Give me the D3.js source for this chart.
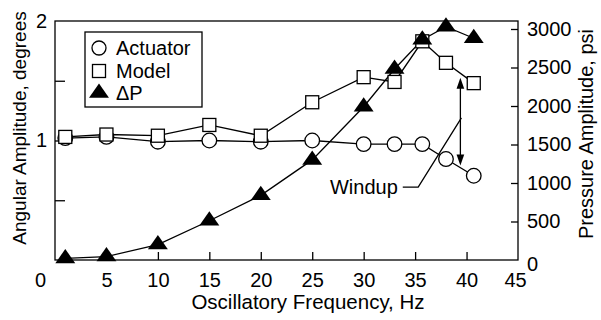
<!DOCTYPE html>
<html>
<head>
<meta charset="utf-8">
<script src="https://cdn.jsdelivr.net/npm/d3@7"></script>
<style>
  html, body { margin: 0; padding: 0; background: #fff; }
  svg text { font-family: "Liberation Sans", Arial, Helvetica, sans-serif; fill: #000; }
</style>
</head>
<body>
<svg id="chart" width="601" height="320"></svg>
<script>
// Oscillatory test: actuator vs. model angular amplitude and pressure amplitude
const freq = [1, 5, 10, 15, 20, 25, 30, 33, 35.7, 38, 40.7];
const actuator = [1.02, 1.03, 0.99, 1.0, 0.99, 1.0, 0.97, 0.97, 0.97, 0.845, 0.705];
const model = [1.03, 1.05, 1.04, 1.13, 1.04, 1.32, 1.53, 1.49, 1.83, 1.65, 1.48];
const deltaP = [20, 45, 200, 510, 840, 1300, 1990, 2480, 2860, 3030, 2880];

const xTicks = [0, 5, 10, 15, 20, 25, 30, 35, 40, 45];
const leftTicks = [0.5, 1, 1.5, 2];
const leftLabels = [1, 2];
const rightTicks = [0, 500, 1000, 1500, 2000, 2500, 3000];

// Windup annotation (Hz, degrees)
const windupArrow = { f: 39.4, top: 1.506, bottom: 0.81 };
const windupLeader = [[33.8, 0.61], [35.3, 0.61], [39.5, 1.19]];

const svg = d3.select("#chart");
const plotL = 55, plotR = 518, plotT = 21, plotB = 260;

const x = d3.scaleLinear().domain([0, 45]).range([plotL, plotR]);
const yL = d3.scaleLinear().domain([0, 2]).range([plotB, plotT]);
const yR = d3.scaleLinear().domain([0, 3000]).range([plotB, 29]);

const g = svg.append("g");
const fs = 20;

// frame
g.append("rect").attr("x", plotL).attr("y", plotT)
  .attr("width", plotR - plotL).attr("height", plotB - plotT)
  .attr("fill", "none").attr("stroke", "#000").attr("stroke-width", 1.3);

// bottom axis (ticks pointing inward)
const xAxis = d3.axisBottom(x).tickValues(xTicks).tickSizeInner(-8).tickSizeOuter(0).tickPadding(13);
const gx = g.append("g").attr("transform", `translate(0,${plotB})`).call(xAxis);
gx.select(".domain").remove();
gx.selectAll(".tick line").attr("stroke-width", 1.3);
gx.selectAll(".tick").filter(d => d === 0 || d === 45).select("line").remove();
gx.selectAll(".tick text").style("font-size", fs + "px").attr("font-family", null);
gx.selectAll(".tick").filter(d => d === 0).select("text").attr("x", -15);
gx.selectAll(".tick").filter(d => d === 45).select("text").attr("x", -3);

// left axis
const yAxisL = d3.axisLeft(yL).tickValues(leftTicks).tickSizeInner(-10).tickSizeOuter(0).tickPadding(8)
  .tickFormat(d => leftLabels.includes(d) ? d3.format("d")(d) : "");
const gyl = g.append("g").attr("transform", `translate(${plotL},0)`).call(yAxisL);
gyl.select(".domain").remove();
gyl.selectAll(".tick line").attr("stroke-width", 1.3);
gyl.selectAll(".tick").filter(d => d === 2).select("line").remove();
gyl.selectAll(".tick text").style("font-size", fs + "px").attr("font-family", null);

// right axis
const yAxisR = d3.axisRight(yR).tickValues(rightTicks).tickSizeInner(-7).tickSizeOuter(0).tickPadding(9)
  .tickFormat(d3.format("d"));
const gyr = g.append("g").attr("transform", `translate(${plotR},0)`).call(yAxisR);
gyr.select(".domain").remove();
gyr.selectAll(".tick line").attr("stroke-width", 1.3);
gyr.selectAll(".tick").filter(d => d === 0).select("line").remove();
gyr.selectAll(".tick text").style("font-size", fs + "px").attr("font-family", null);
gyr.selectAll(".tick").filter(d => d === 0).select("text").attr("dy", "0.5em");

// axis titles
g.append("text").attr("x", 308).attr("y", 309).attr("text-anchor", "middle")
  .style("font-size", "20.5px").text("Oscillatory Frequency, Hz");
g.append("text").attr("transform", "translate(26,128) rotate(-90)").attr("text-anchor", "middle")
  .style("font-size", "19px").text("Angular Amplitude, degrees");
g.append("text").attr("transform", "translate(593,134) rotate(-90)").attr("text-anchor", "middle")
  .style("font-size", "20px").text("Pressure Amplitude, psi");

// series lines
const lineL = d3.line().x((d, i) => x(freq[i])).y(d => yL(d));
const lineR = d3.line().x((d, i) => x(freq[i])).y(d => yR(d));
const lw = 1.3;
g.append("path").attr("d", lineR(deltaP)).attr("fill", "none").attr("stroke", "#000").attr("stroke-width", lw);
g.append("path").attr("d", lineL(actuator)).attr("fill", "none").attr("stroke", "#000").attr("stroke-width", lw);
g.append("path").attr("d", lineL(model)).attr("fill", "none").attr("stroke", "#000").attr("stroke-width", lw);

// windup annotation
const ax = x(windupArrow.f);
g.append("line").attr("x1", ax).attr("x2", ax)
  .attr("y1", yL(windupArrow.top) + 8).attr("y2", yL(windupArrow.bottom) - 8)
  .attr("stroke", "#000").attr("stroke-width", 1.3);
const headUp = d3.symbol().type(d3.symbolTriangle).size(40);
g.append("path").attr("d", headUp()).attr("fill", "#000")
  .attr("transform", `translate(${ax},${yL(windupArrow.top) + 5}) scale(0.8,1.3)`);
g.append("path").attr("d", headUp()).attr("fill", "#000")
  .attr("transform", `translate(${ax},${yL(windupArrow.bottom) - 5}) rotate(180) scale(0.8,1.3)`);
g.append("path").attr("d", d3.line().x(d => x(d[0])).y(d => yL(d[1]))(windupLeader))
  .attr("fill", "none").attr("stroke", "#000").attr("stroke-width", 1.3);
g.append("text").attr("x", x(windupLeader[0][0]) - 5).attr("y", yL(windupLeader[0][1]) + 7)
  .attr("text-anchor", "end").style("font-size", fs + "px").text("Windup");

// markers
const sq = 13;
g.selectAll(".act").data(actuator).join("circle").attr("class", "act")
  .attr("cx", (d, i) => x(freq[i])).attr("cy", d => yL(d)).attr("r", 7.3)
  .attr("fill", "#fff").attr("stroke", "#000").attr("stroke-width", 1.3);
g.selectAll(".mod").data(model).join("rect").attr("class", "mod")
  .attr("x", (d, i) => x(freq[i]) - sq / 2).attr("y", d => yL(d) - sq / 2)
  .attr("width", sq).attr("height", sq)
  .attr("fill", "#fff").attr("stroke", "#000").attr("stroke-width", 1.3);
const tri = d3.symbol().type(d3.symbolTriangle).size(130);
g.selectAll(".dp").data(deltaP).join("path").attr("class", "dp")
  .attr("d", tri()).attr("transform", (d, i) => `translate(${x(freq[i])},${yR(d)}) scale(1.15,0.95)`)
  .attr("fill", "#000");

// legend
const lg = g.append("g");
lg.append("rect").attr("x", 85).attr("y", 32).attr("width", 117).attr("height", 75)
  .attr("fill", "#fff").attr("stroke", "#000").attr("stroke-width", 1.3);
const items = [
  { name: "Actuator", y: 48, kind: "circle" },
  { name: "Model", y: 71, kind: "square" },
  { name: "\u0394P", y: 93, kind: "triangle" }
];
items.forEach(it => {
  if (it.kind === "circle") {
    lg.append("circle").attr("cx", 99).attr("cy", it.y).attr("r", 7)
      .attr("fill", "#fff").attr("stroke", "#000").attr("stroke-width", 1.3);
  } else if (it.kind === "square") {
    lg.append("rect").attr("x", 99 - 6.5).attr("y", it.y - 6.5).attr("width", 13).attr("height", 13)
      .attr("fill", "#fff").attr("stroke", "#000").attr("stroke-width", 1.3);
  } else {
    lg.append("path").attr("d", tri()).attr("transform", `translate(99,${it.y}) scale(1.15,0.95)`)
      .attr("fill", "#000");
  }
  lg.append("text").attr("x", 116).attr("y", it.y + 7).style("font-size", fs + "px").text(it.name);
});
</script>
</body>
</html>
